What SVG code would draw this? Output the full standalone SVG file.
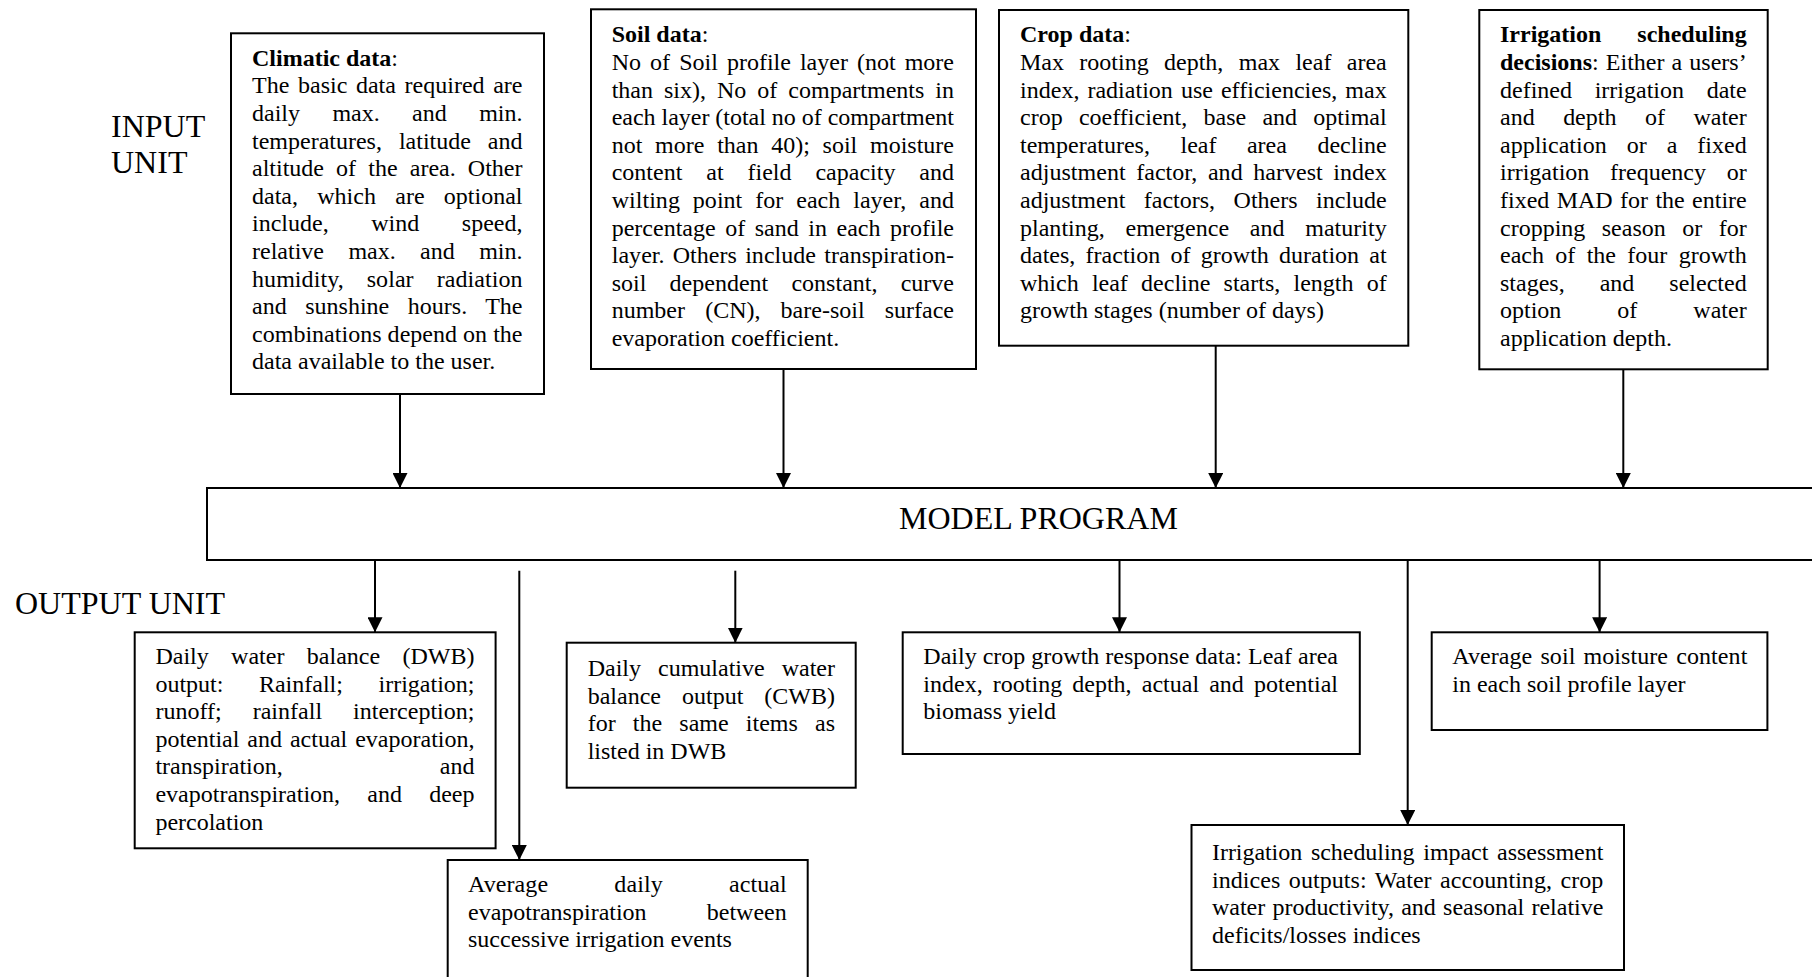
<svg xmlns="http://www.w3.org/2000/svg" width="1812" height="977" viewBox="0 0 1812 977">
<style>
.box{fill:#fff;stroke:#000;stroke-width:2}
text{font-family:"Liberation Serif","Times New Roman",serif;font-size:24px;fill:#000}
.big{font-size:32px}
.b{font-weight:bold}
.con{stroke:#000;stroke-width:2;fill:none;marker-end:url(#ah)}
</style>
<defs>
<marker id="ah" markerUnits="userSpaceOnUse" markerWidth="15" markerHeight="15" refX="15" refY="7.5" orient="auto">
<path d="M0,0 L15,7.5 L0,15 z" fill="#000"/>
</marker>
</defs>
<rect width="1812" height="977" fill="#fff"/>

<g id="labels">
<text class="big" x="111" y="137">INPUT</text>
<text class="big" x="111" y="173">UNIT</text>
<text class="big" x="15" y="614">OUTPUT UNIT</text>
</g>

<g id="climatic">
<rect class="box" x="231" y="33.3" width="313" height="360.7"/>
<text x="252" y="65.7"><tspan class="b">Climatic data</tspan>:</text>
<text x="252" y="93.3" word-spacing="2.65" textLength="270.5" lengthAdjust="spacing">The basic data required are</text>
<text x="252" y="120.9" word-spacing="26.4" textLength="270.5" lengthAdjust="spacing">daily max. and min.</text>
<text x="252" y="148.5" word-spacing="10.95" textLength="270.5" lengthAdjust="spacing">temperatures, latitude and</text>
<text x="252" y="176.1" word-spacing="6.15" textLength="270.5" lengthAdjust="spacing">altitude of the area. Other</text>
<text x="252" y="203.7" word-spacing="13.3" textLength="270.5" lengthAdjust="spacing">data, which are optional</text>
<text x="252" y="231.3" word-spacing="36.6" textLength="270.5" lengthAdjust="spacing">include, wind speed,</text>
<text x="252" y="258.9" word-spacing="18.4" textLength="270.5" lengthAdjust="spacing">relative max. and min.</text>
<text x="252" y="286.5" word-spacing="16.9" textLength="270.5" lengthAdjust="spacing">humidity, solar radiation</text>
<text x="252" y="314.1" word-spacing="12.4" textLength="270.5" lengthAdjust="spacing">and sunshine hours. The</text>
<text x="252" y="341.7" textLength="270.5" lengthAdjust="spacing">combinations depend on the</text>
<text x="252" y="369.3">data available to the user.</text>
</g>

<g id="soil">
<rect class="box" x="591" y="9.3" width="385" height="359.7"/>
<text x="611.7" y="42.3"><tspan class="b">Soil data</tspan>:</text>
<text x="611.7" y="69.9" word-spacing="3.06" textLength="342.3" lengthAdjust="spacing">No of Soil profile layer (not more</text>
<text x="611.7" y="97.5" word-spacing="5" textLength="342.3" lengthAdjust="spacing">than six), No of compartments in</text>
<text x="611.7" y="125.1" textLength="342.3" lengthAdjust="spacing">each layer (total no of compartment</text>
<text x="611.7" y="152.7" word-spacing="6.72" textLength="342.3" lengthAdjust="spacing">not more than 40); soil moisture</text>
<text x="611.7" y="180.3" word-spacing="17.9" textLength="342.3" lengthAdjust="spacing">content at field capacity and</text>
<text x="611.7" y="207.9" word-spacing="6.88" textLength="342.3" lengthAdjust="spacing">wilting point for each layer, and</text>
<text x="611.7" y="235.5" word-spacing="3.54" textLength="342.3" lengthAdjust="spacing">percentage of sand in each profile</text>
<text x="611.7" y="263.1" word-spacing="2.13" textLength="342.3" lengthAdjust="spacing">layer. Others include transpiration-</text>
<text x="611.7" y="290.7" word-spacing="17.2" textLength="342.3" lengthAdjust="spacing">soil dependent constant, curve</text>
<text x="611.7" y="318.3" word-spacing="14.1" textLength="342.3" lengthAdjust="spacing">number (CN), bare-soil surface</text>
<text x="611.7" y="345.9">evaporation coefficient.</text>
</g>

<g id="crop">
<rect class="box" x="999" y="10" width="409.3" height="335.7"/>
<text x="1020" y="42.3"><tspan class="b">Crop data</tspan>:</text>
<text x="1020" y="69.9" word-spacing="9.36" textLength="366.7" lengthAdjust="spacing">Max rooting depth, max leaf area</text>
<text x="1020" y="97.5" word-spacing="2" textLength="366.7" lengthAdjust="spacing">index, radiation use efficiencies, max</text>
<text x="1020" y="125.1" word-spacing="10.2" textLength="366.7" lengthAdjust="spacing">crop coefficient, base and optimal</text>
<text x="1020" y="152.7" word-spacing="24.5" textLength="366.7" lengthAdjust="spacing">temperatures, leaf area decline</text>
<text x="1020" y="180.3" word-spacing="4.5" textLength="366.7" lengthAdjust="spacing">adjustment factor, and harvest index</text>
<text x="1020" y="207.9" word-spacing="12.5" textLength="366.7" lengthAdjust="spacing">adjustment factors, Others include</text>
<text x="1020" y="235.5" word-spacing="14.7" textLength="366.7" lengthAdjust="spacing">planting, emergence and maturity</text>
<text x="1020" y="263.1" word-spacing="4.28" textLength="366.7" lengthAdjust="spacing">dates, fraction of growth duration at</text>
<text x="1020" y="290.7" word-spacing="7.2" textLength="366.7" lengthAdjust="spacing">which leaf decline starts, length of</text>
<text x="1020" y="318.3">growth stages (number of days)</text>
</g>

<g id="irrigation">
<rect class="box" x="1479.3" y="10" width="288.4" height="359.3"/>
<text x="1500" y="42.3" class="b" word-spacing="30" textLength="246.7" lengthAdjust="spacing">Irrigation scheduling</text>
<text x="1500" y="69.9" word-spacing="1.1" textLength="246.7" lengthAdjust="spacing"><tspan class="b">decisions</tspan>: Either a users’</text>
<text x="1500" y="97.5" word-spacing="16.7" textLength="246.7" lengthAdjust="spacing">defined irrigation date</text>
<text x="1500" y="125.1" word-spacing="22.5" textLength="246.7" lengthAdjust="spacing">and depth of water</text>
<text x="1500" y="152.7" word-spacing="14" textLength="246.7" lengthAdjust="spacing">application or a fixed</text>
<text x="1500" y="180.3" word-spacing="14.7" textLength="246.7" lengthAdjust="spacing">irrigation frequency or</text>
<text x="1500" y="207.9" word-spacing="1.35" textLength="246.7" lengthAdjust="spacing">fixed MAD for the entire</text>
<text x="1500" y="235.5" word-spacing="10.5" textLength="246.7" lengthAdjust="spacing">cropping season or for</text>
<text x="1500" y="263.1" word-spacing="5.35" textLength="246.7" lengthAdjust="spacing">each of the four growth</text>
<text x="1500" y="290.7" word-spacing="29" textLength="246.7" lengthAdjust="spacing">stages, and selected</text>
<text x="1500" y="318.3" word-spacing="50" textLength="246.7" lengthAdjust="spacing">option of water</text>
<text x="1500" y="345.9">application depth.</text>
</g>

<g id="model">
<rect class="box" x="207" y="488" width="1620" height="72"/>
<text class="big" x="899" y="529">MODEL PROGRAM</text>
</g>

<g id="dwb">
<rect class="box" x="134.7" y="632.3" width="360.9" height="216"/>
<text x="155.4" y="664" word-spacing="16.4" textLength="319.1" lengthAdjust="spacing">Daily water balance (DWB)</text>
<text x="155.4" y="691.6" word-spacing="29.5" textLength="319.1" lengthAdjust="spacing">output: Rainfall; irrigation;</text>
<text x="155.4" y="719.2" word-spacing="24.9" textLength="319.1" lengthAdjust="spacing">runoff; rainfall interception;</text>
<text x="155.4" y="746.8" word-spacing="1.9" textLength="319.1" lengthAdjust="spacing">potential and actual evaporation,</text>
<text x="155.4" y="774.4" word-spacing="151.1" textLength="319.1" lengthAdjust="spacing">transpiration, and</text>
<text x="155.4" y="802" word-spacing="21.2" textLength="319.1" lengthAdjust="spacing">evapotranspiration, and deep</text>
<text x="155.4" y="829.6">percolation</text>
</g>

<g id="cwb">
<rect class="box" x="566.7" y="642.7" width="289" height="145"/>
<text x="587.7" y="676" word-spacing="11" textLength="247.3" lengthAdjust="spacing">Daily cumulative water</text>
<text x="587.7" y="703.6" word-spacing="15" textLength="247.3" lengthAdjust="spacing">balance output (CWB)</text>
<text x="587.7" y="731.2" word-spacing="11.2" textLength="247.3" lengthAdjust="spacing">for the same items as</text>
<text x="587.7" y="758.8">listed in DWB</text>
</g>

<g id="avg-et">
<rect class="box" x="447.7" y="860" width="360" height="130"/>
<text x="468" y="892" word-spacing="60" textLength="318.7" lengthAdjust="spacing">Average daily actual</text>
<text x="468" y="919.6" word-spacing="54.1" textLength="318.7" lengthAdjust="spacing">evapotranspiration between</text>
<text x="468" y="947.2">successive irrigation events</text>
</g>

<g id="crop-growth">
<rect class="box" x="902.7" y="632.3" width="457.1" height="121.7"/>
<text x="923.3" y="664" textLength="414.7" lengthAdjust="spacing">Daily crop growth response data: Leaf area</text>
<text x="923.3" y="691.6" word-spacing="4.1" textLength="414.7" lengthAdjust="spacing">index, rooting depth, actual and potential</text>
<text x="923.3" y="719.2">biomass yield</text>
</g>

<g id="avg-soil">
<rect class="box" x="1431.7" y="632.3" width="335.7" height="97.7"/>
<text x="1452.3" y="664" word-spacing="2.1" textLength="295" lengthAdjust="spacing">Average soil moisture content</text>
<text x="1452.3" y="691.6">in each soil profile layer</text>
</g>

<g id="impact">
<rect class="box" x="1191.5" y="825" width="432.5" height="145"/>
<text x="1212" y="860" word-spacing="2.9" textLength="391.3" lengthAdjust="spacing">Irrigation scheduling impact assessment</text>
<text x="1212" y="887.6" word-spacing="2.35" textLength="391.3" lengthAdjust="spacing">indices outputs: Water accounting, crop</text>
<text x="1212" y="915.2" word-spacing="1.3" textLength="391.3" lengthAdjust="spacing">water productivity, and seasonal relative</text>
<text x="1212" y="942.8">deficits/losses indices</text>
</g>

<g id="connectors">
<line class="con" x1="400" y1="394" x2="400" y2="488"/>
<line class="con" x1="783.5" y1="369" x2="783.5" y2="488"/>
<line class="con" x1="1215.7" y1="345.7" x2="1215.7" y2="488"/>
<line class="con" x1="1623.3" y1="369.3" x2="1623.3" y2="488"/>
<line class="con" x1="375" y1="560" x2="375" y2="632.3"/>
<line class="con" x1="519.3" y1="570.7" x2="519.3" y2="860"/>
<line class="con" x1="735.3" y1="570.7" x2="735.3" y2="642.7"/>
<line class="con" x1="1119.5" y1="560" x2="1119.5" y2="632.3"/>
<line class="con" x1="1407.7" y1="560" x2="1407.7" y2="825"/>
<line class="con" x1="1599.6" y1="560" x2="1599.6" y2="632.3"/>
</g>
</svg>
